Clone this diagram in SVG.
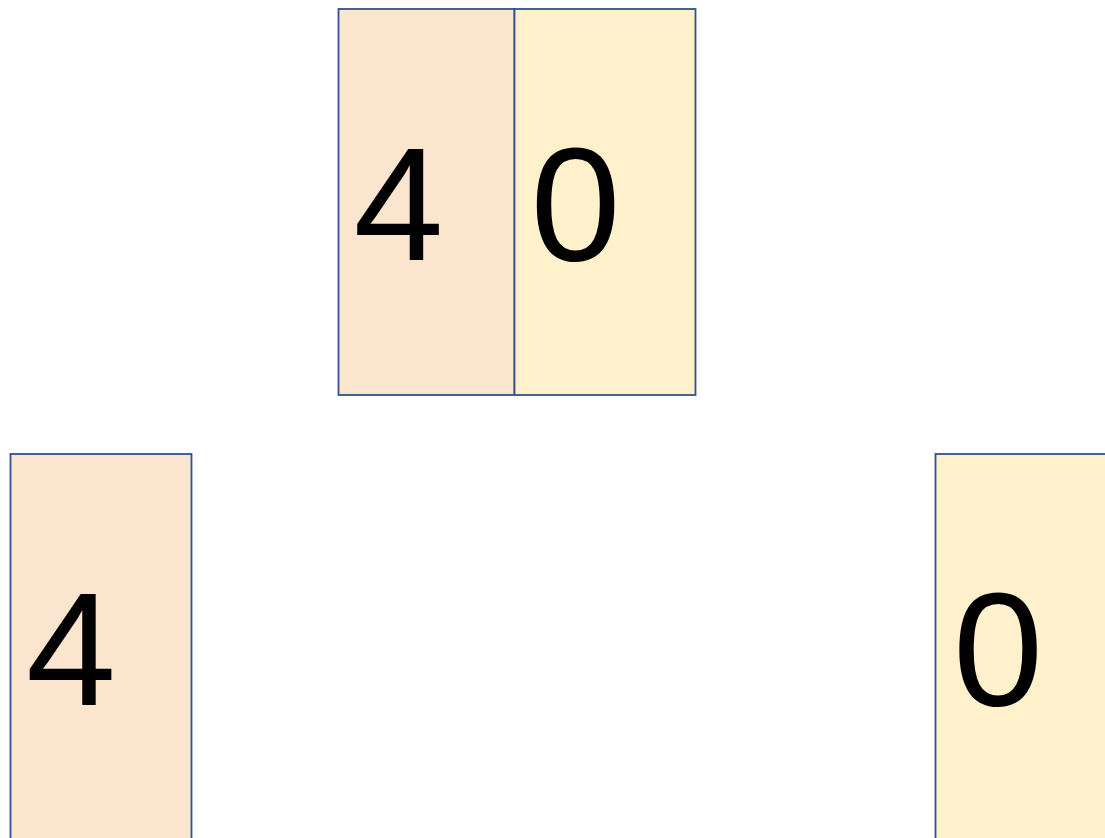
<svg xmlns="http://www.w3.org/2000/svg" width="1105" height="838" viewBox="0 0 1105 838">
<style>
.orange{fill:#FBE5CE;stroke:#2F528F;stroke-width:1.8}
.yellow{fill:#FFF1CC;stroke:#2F528F;stroke-width:1.8}
.num{font-family:"Liberation Sans",Arial,sans-serif;font-size:162px;fill:#000}
</style>
<rect width="1105" height="838" fill="#fff"/>
<g id="top">
<rect class="orange" x="338.5" y="9" width="176" height="386"/>
<rect class="yellow" x="514.5" y="9" width="181" height="386"/>
<text class="num" x="353.5" y="260">4</text>
<text class="num" x="530.5" y="260">0</text>
</g>
<g id="left">
<rect class="orange" x="10.5" y="454" width="181" height="400"/>
<text class="num" x="26" y="705">4</text>
</g>
<g id="right">
<rect class="yellow" x="935.5" y="454" width="190" height="400"/>
<text class="num" x="953" y="705">0</text>
</g>
<g id="connectors"/>
</svg>
